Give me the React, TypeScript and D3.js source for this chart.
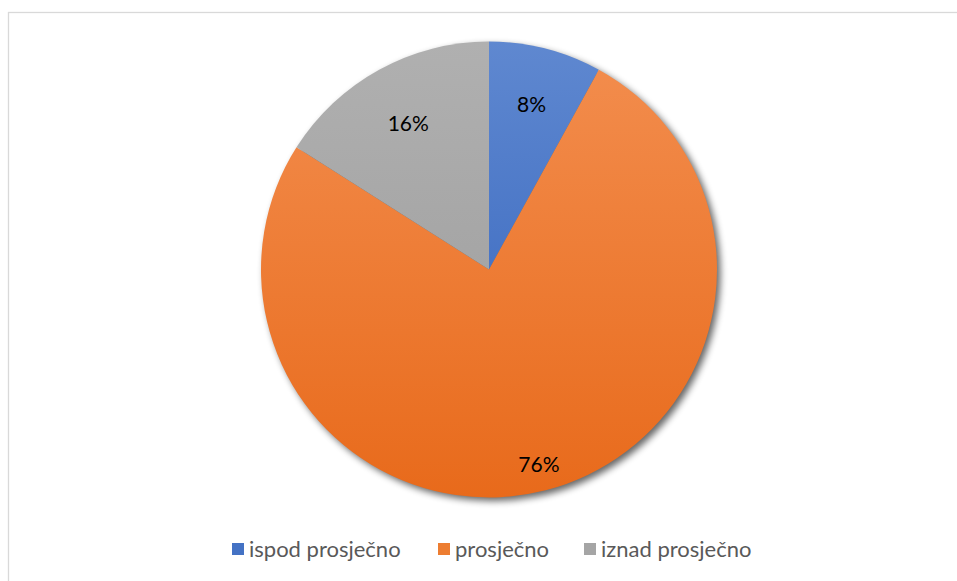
import React from "react";
import * as d3 from "d3";

const categories = ["ispod prosječno", "prosječno", "iznad prosječno"];
const values = [8, 76, 16];
const labels = ["8%", "76%", "16%"];
const colorsTop = ["#5f88d0", "#f38e4f", "#b0b0b0"];
const colorsBottom = ["#2f60bb", "#e86a1b", "#9a9a9a"];
const legendColors = ["#4472c4", "#ed7d31", "#a5a5a5"];

const W = 957;
const H = 581;
const cx = 489;
const cy = 269.5;
const R = 228;
const labelFactor = [0.75, 0.88, 0.735];
const legendX = [232, 438, 584];

export default function App() {
  const pie = d3.pie<number>().sort(null).value((d) => d)(values);
  const arc = d3.arc<d3.PieArcDatum<number>>().innerRadius(0).outerRadius(R);
  return (
    <svg
      width={W}
      height={H}
      style={{ position: "absolute", left: 0, top: 0, background: "#fff" }}
      fontFamily="Lato, 'Liberation Sans', sans-serif"
    >
      <defs>
        <filter id="blur" x="-20%" y="-20%" width="140%" height="140%" colorInterpolationFilters="sRGB">
          <feGaussianBlur stdDeviation="3.5" />
        </filter>
        {categories.map((c, i) => (
          <linearGradient
            key={c}
            id={`g${i}`}
            gradientUnits="userSpaceOnUse"
            x1={0}
            y1={-R}
            x2={0}
            y2={R}
          >
            <stop offset="0" stopColor={colorsTop[i]} />
            <stop offset="1" stopColor={colorsBottom[i]} />
          </linearGradient>
        ))}
      </defs>
      <rect x={8.5} y={12.5} width={960} height={600} fill="#fff" stroke="#d9d9d9" strokeWidth={1.3} />
      <g transform={`translate(${cx},${cy})`}>
        <circle cx={3.5} cy={3.5} r={R} fill="#000" opacity={0.6} filter="url(#blur)" />
        {pie.map((p, i) => (
          <path key={i} d={arc(p) || ""} fill={`url(#g${i})`} />
        ))}
        {pie.map((p, i) => {
          const a = (p.startAngle + p.endAngle) / 2;
          const r = R * labelFactor[i];
          const x = Math.sin(a) * r;
          const y = -Math.cos(a) * r;
          return (
            <text
              key={i}
              x={x}
              y={y}
              textAnchor="middle"
              dominantBaseline="central"
              fontSize={21}
              fill="#000"
            >
              {labels[i]}
            </text>
          );
        })}
      </g>
      <g>
        {categories.map((c, i) => (
          <g key={c} transform={`translate(${legendX[i]},0)`}>
            <rect x={0} y={543} width={12} height={12} fill={legendColors[i]} />
            <text x={17} y={557} fontSize={22} fill="#595959">
              {c}
            </text>
          </g>
        ))}
      </g>
    </svg>
  );
}
